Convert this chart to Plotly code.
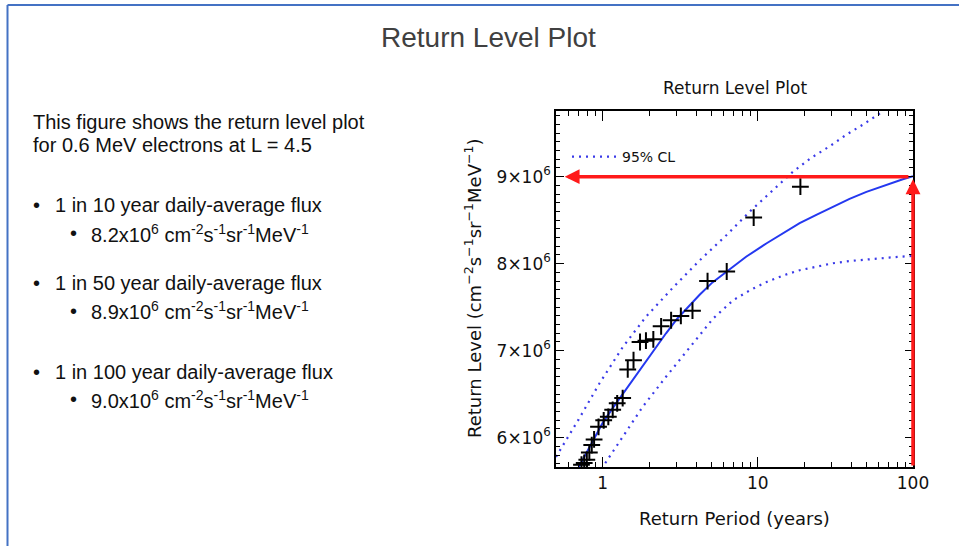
import plotly.graph_objects as go

# 数据
# 观测点: 重现期(年) / 重现水平
obs_period = [18.8, 9.4, 6.3, 4.74, 3.79, 3.19, 2.76, 2.38, 2.12, 1.90, 1.74,
              1.58, 1.45, 1.345, 1.24, 1.16, 1.087, 1.015, 0.94, 0.88, 0.85,
              0.82, 0.79, 0.76, 0.73]
obs_level = [8.885e6, 8.53e6, 7.91e6, 7.80e6, 7.46e6, 7.40e6, 7.35e6, 7.28e6,
             7.13e6, 7.115e6, 7.10e6, 6.89e6, 6.785e6, 6.455e6, 6.395e6,
             6.32e6, 6.24e6, 6.20e6, 6.125e6, 5.98e6, 5.915e6, 5.83e6,
             5.745e6, 5.71e6, 5.69e6]

# 拟合曲线
fit_period = [0.70, 0.85, 1.0, 1.16, 1.345, 1.56, 1.81, 2.15, 2.56, 3.03, 3.61, 4.23,
              5.1, 6.29, 8.4, 11.4, 14.6, 18.6, 24.0, 30.5, 39.0, 50.1, 61.0, 74.4, 86.0, 100]
fit_level = [5.66e6, 5.93e6, 6.17e6, 6.34e6, 6.50e6, 6.67e6, 6.835e6, 7.02e6, 7.20e6,
             7.37e6, 7.52e6, 7.645e6, 7.785e6, 7.91e6, 8.08e6, 8.235e6, 8.35e6, 8.465e6,
             8.565e6, 8.655e6, 8.745e6, 8.825e6, 8.88e6, 8.93e6, 8.97e6, 9.005e6]

# 95% 置信区间
upper_period = [0.5, 0.7, 0.95, 1.345, 1.9, 2.82, 4.23, 6.29, 8.88, 12.56, 16.9, 22.0,
                29.1, 37.0, 47.7, 64]
upper_level = [5.78e6, 6.21e6, 6.62e6, 7.04e6, 7.39e6, 7.72e6, 8.04e6, 8.33e6,
               8.60e6, 8.85e6, 9.06e6, 9.215e6, 9.35e6, 9.48e6, 9.60e6, 9.75e6]
lower_period = [0.98, 1.345, 1.81, 2.56, 3.61, 5.15, 6.93, 9.0, 11.4, 14.6, 18.6, 24.0,
                30.5, 39.0, 50.1, 70.0, 100]
lower_level = [5.64e6, 6.01e6, 6.355e6, 6.70e6, 7.03e6, 7.37e6, 7.58e6, 7.70e6,
               7.79e6, 7.865e6, 7.925e6, 7.97e6, 8.005e6, 8.03e6, 8.05e6, 8.07e6, 8.09e6]

y_ticks = [6e6, 7e6, 8e6, 9e6]
y_ticktext = ["6×10<sup>6</sup>", "7×10<sup>6</sup>", "8×10<sup>6</sup>", "9×10<sup>6</sup>"]
x_ticks = [1, 10, 100]
x_ticktext = ["1", "10", "100"]

return_100 = 9.0e6

blue = "#2438f0"
dot_blue = "#3a3ae8"
red = "#ff1a1a"

fig = go.Figure()

fig.add_trace(go.Scatter(x=upper_period, y=upper_level, mode="lines", name="95% CL",
                         line=dict(color=dot_blue, width=2.2, dash="2px,5px"),
                         showlegend=True))
fig.add_trace(go.Scatter(x=lower_period, y=lower_level, mode="lines",
                         line=dict(color=dot_blue, width=2.2, dash="2px,5px"),
                         showlegend=False))
fig.add_trace(go.Scatter(x=fit_period, y=fit_level, mode="lines",
                         line=dict(color=blue, width=2), showlegend=False))
fig.add_trace(go.Scatter(x=obs_period, y=obs_level, mode="markers",
                         marker=dict(symbol="cross-thin", size=12, line=dict(color="black", width=2)),
                         showlegend=False))

# 红色箭头 (log 轴的注释坐标用 log10)
y_bottom = 5.663e6
fig.add_annotation(x=-0.245, y=return_100, ax=1.98, ay=return_100, xref="x", yref="y",
                   axref="x", ayref="y", text="", showarrow=True, arrowhead=2,
                   arrowsize=0.85, arrowwidth=3.5, arrowcolor=red, standoff=0)
fig.add_annotation(x=2, y=8.97e6, ax=2, ay=y_bottom, xref="x", yref="y",
                   axref="x", ayref="y", text="", showarrow=True, arrowhead=2,
                   arrowsize=0.85, arrowwidth=3.5, arrowcolor=red, standoff=0)

tick_font = dict(family="DejaVu Sans", size=17, color="#111")

fig.update_xaxes(type="log", range=[-0.301, 2.0], tickvals=x_ticks, ticktext=x_ticktext,
                 ticks="inside", ticklen=10, tickwidth=1.2, tickcolor="black",
                 showline=True, linecolor="black", linewidth=1.5, mirror="allticks",
                 showgrid=False, zeroline=False, tickfont=tick_font,
                 minor=dict(ticks="inside", ticklen=5, tickcolor="black", tickwidth=1,
                            tickvals=[0.5, 0.6, 0.7, 0.8, 0.9, 2, 3, 4, 5, 6, 7, 8, 9,
                                      20, 30, 40, 50, 60, 70, 80, 90], showgrid=False))
fig.update_yaxes(range=[5.663e6, 9.755e6], tickvals=y_ticks, ticktext=y_ticktext,
                 ticks="inside", ticklen=8, tickwidth=1.2, tickcolor="black",
                 showline=True, linecolor="black", linewidth=1.5, mirror="allticks",
                 showgrid=False, zeroline=False, tickfont=tick_font,
                 minor=dict(ticks="inside", ticklen=4, tickcolor="black", tickwidth=1,
                            dtick=1e5, showgrid=False))

# 页面坐标换算: 绘图区 x 556-913, y 111-467
L, R, T, B = 556, 913, 111, 467
def px(x):
    return (x - L) / (R - L)
def py(y):
    return (B - y) / (B - T)

text_font = dict(family="Liberation Sans, Arial", size=20, color="#111")
anns = [
    dict(x=px(488), y=py(37), text="Return Level Plot", xanchor="center",
         font=dict(family="Liberation Sans, Arial", size=28, color="#404040")),
    dict(x=px(735), y=py(88), text="Return Level Plot", xanchor="center",
         font=dict(family="DejaVu Sans", size=17, color="#111")),
    dict(x=px(734), y=py(518), text="Return Period (years)", xanchor="center",
         font=dict(family="DejaVu Sans", size=18, color="#111")),
    dict(x=px(473), y=py(288), text="Return Level (cm<sup>−2</sup>s<sup>−1</sup>sr<sup>−1</sup>MeV<sup>−1</sup>)",
         xanchor="center", textangle=-90, font=dict(family="DejaVu Sans", size=18, color="#111")),
    dict(x=px(31), y=py(121.7), text="This figure shows the return level plot", xanchor="left", font=text_font),
    dict(x=px(31), y=py(145), text="for 0.6 MeV electrons at L = 4.5", xanchor="left", font=text_font),
]
bullets = [
    ("1 in 10 year daily-average flux", "8.2x10<sup>6</sup> cm<sup>-2</sup>s<sup>-1</sup>sr<sup>-1</sup>MeV<sup>-1</sup>", 205, 233.3),
    ("1 in 50 year daily-average flux", "8.9x10<sup>6</sup> cm<sup>-2</sup>s<sup>-1</sup>sr<sup>-1</sup>MeV<sup>-1</sup>", 282.7, 310.7),
    ("1 in 100 year daily-average flux", "9.0x10<sup>6</sup> cm<sup>-2</sup>s<sup>-1</sup>sr<sup>-1</sup>MeV<sup>-1</sup>", 371.7, 399.3),
]
for main, sub, y1, y2 in bullets:
    anns.append(dict(x=px(31), y=py(y1), text="•", xanchor="left", font=text_font))
    anns.append(dict(x=px(53), y=py(y1), text=main, xanchor="left", font=text_font))
    anns.append(dict(x=px(68), y=py(y2), text="•", xanchor="left", font=text_font))
    anns.append(dict(x=px(89), y=py(y2), text=sub, xanchor="left", font=text_font))
for a in anns:
    fig.add_annotation(xref="paper", yref="paper", yanchor="middle", showarrow=False, **a)

# 幻灯片边框
border = "#4472c4"
fig.add_shape(type="line", xref="paper", yref="paper", x0=px(7.5), x1=px(960), y0=py(5), y1=py(5),
              line=dict(color=border, width=2))
fig.add_shape(type="line", xref="paper", yref="paper", x0=px(7.5), x1=px(7.5), y0=py(5), y1=py(547),
              line=dict(color=border, width=2))

fig.update_layout(
    width=959, height=546,
    margin=dict(l=L, r=959 - R, t=T, b=546 - B),
    paper_bgcolor="white", plot_bgcolor="white",
    legend=dict(x=px(567), y=py(157), xanchor="left", yanchor="middle",
                bgcolor="rgba(0,0,0,0)", font=dict(family="DejaVu Sans", size=14, color="#111"),
                itemwidth=45),
)

# 去掉页面默认 8px 边距, 让图与窗口对齐
fig.write_html("out.html", config={"displayModeBar": False},
               post_script="document.body.style.margin='0';")
